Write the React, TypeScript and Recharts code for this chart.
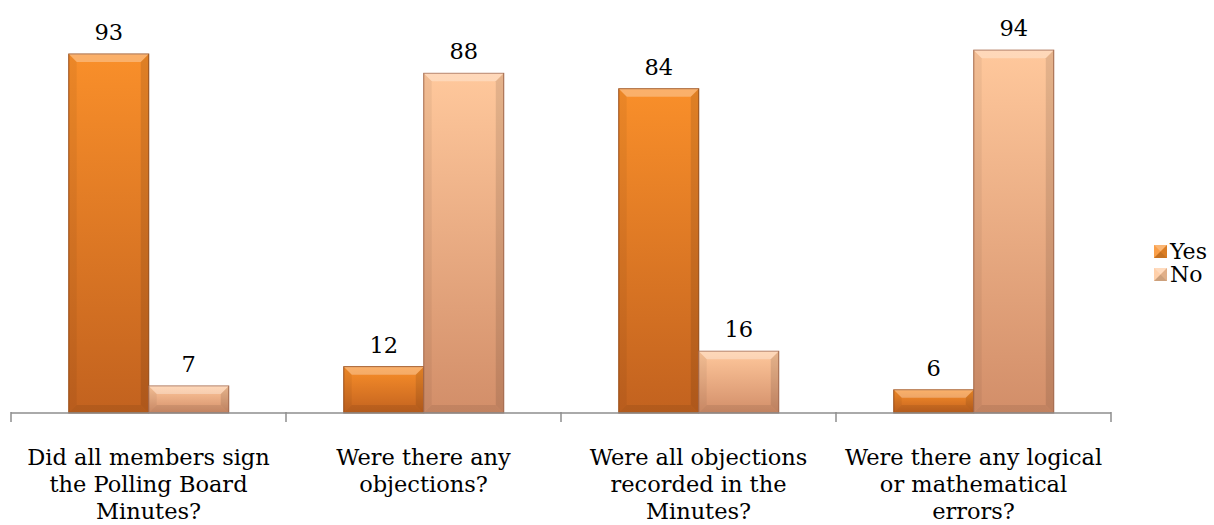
import { BarChart, Bar, XAxis, YAxis, LabelList } from 'recharts';

const categories = [
  'Did all members sign\nthe Polling Board\nMinutes?',
  'Were there any\nobjections?',
  'Were all objections\nrecorded in the\nMinutes?',
  'Were there any logical\nor mathematical\nerrors?',
];
const yesValues = [93, 12, 84, 6];
const noValues = [7, 88, 16, 94];
const seriesNames = ['Yes', 'No'];

const data = categories.map((name, i) => ({ name, yes: yesValues[i], no: noValues[i] }));

const W = 1214;
const H = 525;
const margin = { top: 27, right: 103, bottom: 0, left: 11 };
const band = (W - margin.left - margin.right) / categories.length;
const font = "'DejaVu Serif', serif";

const palette = {
  yes: { top: '#f98f2a', bottom: '#c2621f', edge: '#9a4c16' },
  no: { top: '#ffc89c', bottom: '#d28e69', edge: '#a8694a' },
};

function BevelBar(props: any) {
  const { x, y, width, height, kind } = props;
  if (!height || height <= 0) return null;
  const b = Math.min(8, height / 2);
  const id = `grad-${kind}`;
  return (
    <g>
      <rect x={x} y={y} width={width} height={height} fill={`url(#${id})`} stroke={palette[kind as 'yes'].edge} strokeWidth={1} />
      <polygon points={`${x},${y} ${x + width},${y} ${x + width - b},${y + b} ${x + b},${y + b}`} fill="#fff" fillOpacity={0.3} />
      <polygon points={`${x},${y} ${x + b},${y + b} ${x + b},${y + height - b} ${x},${y + height}`} fill="#000" fillOpacity={0.05} />
      <polygon points={`${x + width},${y} ${x + width - b},${y + b} ${x + width - b},${y + height - b} ${x + width},${y + height}`} fill="#000" fillOpacity={0.1} />
      <polygon points={`${x},${y + height} ${x + b},${y + height - b} ${x + width - b},${y + height - b} ${x + width},${y + height}`} fill="#000" fillOpacity={0.08} />
    </g>
  );
}

function CategoryTick(props: any) {
  const { x, y, payload, index } = props;
  const lines = String(payload.value).split('\n');
  const left = x - band / 2;
  return (
    <g>
      <line x1={left} y1={y - 9} x2={left} y2={y + 1} stroke="#8e8e8e" strokeWidth={1.5} />
      {index === categories.length - 1 && (
        <line x1={x + band / 2} y1={y - 9} x2={x + band / 2} y2={y + 1} stroke="#8e8e8e" strokeWidth={1.5} />
      )}
      {lines.map((line, i) => (
        <text key={i} x={x} y={y + 44 + i * 27} textAnchor="middle" fontSize={22.5} fontFamily={font} fill="#000">
          {line}
        </text>
      ))}
    </g>
  );
}

function LegendBox() {
  const keys = ['yes', 'no'];
  return (
    <div style={{ position: 'absolute', left: 1154, top: 240, fontFamily: font, fontSize: 22, color: '#000' }}>
      {keys.map((k, i) => (
        <div key={k} style={{ display: 'flex', alignItems: 'center', height: 23 }}>
          <svg width={13} height={13} style={{ marginRight: 3 }}>
            <rect x={0} y={0} width={13} height={13} fill={palette[k as 'yes'].top} />
            <polygon points="0,0 13,0 6.5,6.5" fill="#fff" fillOpacity={0.35} />
            <polygon points="0,0 0,13 6.5,6.5" fill="#fff" fillOpacity={0.15} />
            <polygon points="13,0 13,13 6.5,6.5" fill="#000" fillOpacity={0.12} />
            <polygon points="0,13 13,13 6.5,6.5" fill="#000" fillOpacity={0.2} />
          </svg>
          <span>{seriesNames[i]}</span>
        </div>
      ))}
    </div>
  );
}

export default function App() {
  return (
    <div style={{ position: 'absolute', left: 0, top: 0, width: W, height: H, background: '#fff' }}>
      <BarChart width={W} height={H} data={data} margin={margin} barCategoryGap="21%" barGap={0}>
        <defs>
          <linearGradient id="grad-yes" x1="0" y1="0" x2="0" y2="1">
            <stop offset="0%" stopColor={palette.yes.top} />
            <stop offset="100%" stopColor={palette.yes.bottom} />
          </linearGradient>
          <linearGradient id="grad-no" x1="0" y1="0" x2="0" y2="1">
            <stop offset="0%" stopColor={palette.no.top} />
            <stop offset="100%" stopColor={palette.no.bottom} />
          </linearGradient>
        </defs>
        <XAxis
          dataKey="name"
          interval={0}
          axisLine={{ stroke: '#8e8e8e', strokeWidth: 1.5 }}
          tickLine={false}
          tick={<CategoryTick />}
          height={112}
        />
        <YAxis hide domain={[0, 100]} />
        <Bar dataKey="yes" name={seriesNames[0]} isAnimationActive={false} shape={(p: any) => <BevelBar {...p} kind="yes" />}>
          <LabelList dataKey="yes" position="top" offset={14} fontSize={22.5} fontFamily={font} fill="#000" />
        </Bar>
        <Bar dataKey="no" name={seriesNames[1]} isAnimationActive={false} shape={(p: any) => <BevelBar {...p} kind="no" />}>
          <LabelList dataKey="no" position="top" offset={14} fontSize={22.5} fontFamily={font} fill="#000" />
        </Bar>
      </BarChart>
      <LegendBox />
    </div>
  );
}
